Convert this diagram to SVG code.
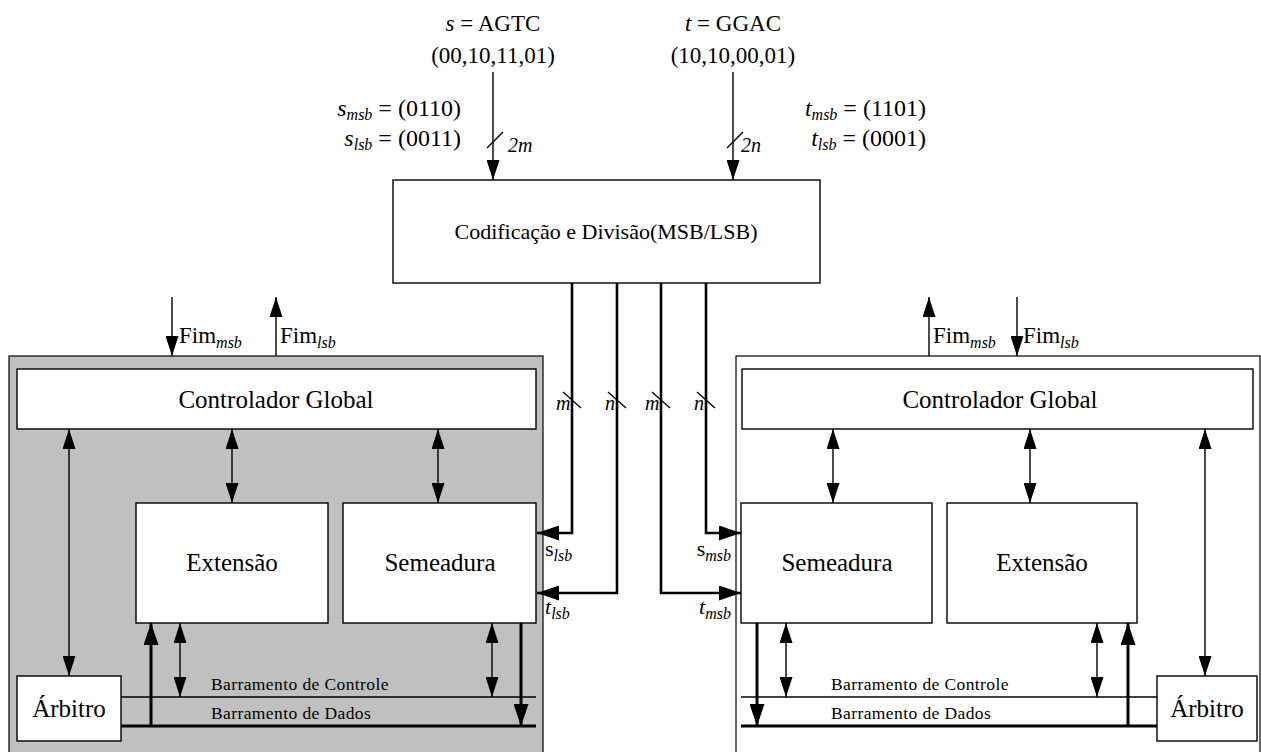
<svg xmlns="http://www.w3.org/2000/svg" width="1261" height="752" viewBox="0 0 1261 752" font-family="'Liberation Serif', 'Times New Roman', serif">
<defs>
<style>
text{font-family:'Liberation Serif','Times New Roman',serif;font-size:23px;fill:#000}
.c{text-anchor:middle}
.e{text-anchor:end}
.i{font-style:italic}
.sub{font-size:16px;font-style:italic}
.lbl{font-size:25px}
.eq{font-size:24px}
.eq .sub{font-size:16px}
.bus{font-size:17.5px;letter-spacing:0.4px}
.sm{font-size:20px;font-style:italic}
.box{fill:#fff;stroke:#000;stroke-width:1.4}
.thin{stroke:#000;stroke-width:1.4;fill:none}
.thick{stroke:#000;stroke-width:3;fill:none}
.mid{stroke:#000;stroke-width:2.6;fill:none}
</style>
<marker id="ah" viewBox="0 0 22 15" refX="22" refY="7.5" markerWidth="22" markerHeight="15" markerUnits="userSpaceOnUse" orient="auto-start-reverse"><path d="M0,0 L22,7.5 L0,15 z" fill="#000"/></marker>
<marker id="ahs" viewBox="0 0 20 13" refX="20" refY="6.5" markerWidth="20" markerHeight="13" markerUnits="userSpaceOnUse" orient="auto-start-reverse"><path d="M0,0 L20,6.5 L0,13 z" fill="#000"/></marker>
</defs>

<!-- panels -->
<g id="panel-left"><rect x="9" y="356" width="534" height="410" fill="#c0c0c0" stroke="#000" stroke-width="1.2"/></g>
<g id="panel-right"><rect x="736" y="356" width="524" height="410" fill="#fff" stroke="#000" stroke-width="1.2"/></g>

<!-- top labels -->
<g id="input-s">
<text class="c" x="493" y="31"><tspan class="i">s</tspan> = AGTC</text>
<text class="c" x="493" y="63">(00,10,11,01)</text>
<text class="e eq" x="461" y="116"><tspan class="i">s</tspan><tspan class="sub" dy="4">msb</tspan><tspan dy="-4"> = (0110)</tspan></text>
<text class="e eq" x="461" y="146"><tspan class="i">s</tspan><tspan class="sub" dy="4">lsb</tspan><tspan dy="-4"> = (0011)</tspan></text>
</g>
<g id="input-t">
<text class="c" x="733" y="31"><tspan class="i">t</tspan> = GGAC</text>
<text class="c" x="733" y="63">(10,10,00,01)</text>
<text class="e eq" x="926" y="116"><tspan class="i">t</tspan><tspan class="sub" dy="4">msb</tspan><tspan dy="-4"> = (1101)</tspan></text>
<text class="e eq" x="926" y="146"><tspan class="i">t</tspan><tspan class="sub" dy="4">lsb</tspan><tspan dy="-4"> = (0001)</tspan></text>
</g>

<g id="codificacao">
<rect class="box" x="393" y="180" width="427" height="103"/>
<text class="c" x="606" y="239" style="font-size:22px">Codificação e Divisão(MSB/LSB)</text>
</g>

<!-- left side nodes -->
<g id="ctrl-left"><rect class="box" x="17" y="369" width="519" height="60"/><text class="c lbl" x="276" y="408">Controlador Global</text></g>
<g id="ext-left"><rect class="box" x="136" y="503" width="192" height="120"/><text class="c lbl" x="232" y="571">Extensão</text></g>
<g id="sem-left"><rect class="box" x="343" y="503" width="193" height="120"/><text class="c lbl" x="440" y="571">Semeadura</text></g>
<g id="arb-left"><rect class="box" x="17" y="676" width="104" height="65"/><text class="c lbl" x="69" y="717">Árbitro</text></g>

<!-- right side nodes -->
<g id="ctrl-right"><rect class="box" x="742" y="369" width="511" height="60"/><text class="c lbl" x="1000" y="408">Controlador Global</text></g>
<g id="sem-right"><rect class="box" x="741" y="503" width="191" height="120"/><text class="c lbl" x="837" y="571">Semeadura</text></g>
<g id="ext-right"><rect class="box" x="947" y="503" width="190" height="120"/><text class="c lbl" x="1042" y="571">Extensão</text></g>
<g id="arb-right"><rect class="box" x="1157" y="676" width="100" height="65"/><text class="c lbl" x="1207" y="717">Árbitro</text></g>

<g id="connectors">
<!-- inputs -->
<line class="thin" x1="493" y1="72" x2="493" y2="180" marker-end="url(#ahs)"/>
<line class="thin" x1="733" y1="72" x2="733" y2="180" marker-end="url(#ahs)"/>
<line class="thin" x1="487" y1="148" x2="503" y2="132"/>
<line class="thin" x1="727" y1="148" x2="743" y2="132"/>
<text class="sm" x="508" y="152">2m</text>
<text class="sm" x="741" y="152">2n</text>

<!-- split lines -->
<polyline class="mid" points="572,283 572,533 537,533" marker-end="url(#ah)"/>
<polyline class="mid" points="617,283 617,593 537,593" marker-end="url(#ah)"/>
<polyline class="mid" points="661,283 661,593 741,593" marker-end="url(#ah)"/>
<polyline class="mid" points="706,283 706,533 741,533" marker-end="url(#ah)"/>
<line class="thin" x1="563" y1="392" x2="581" y2="408"/>
<line class="thin" x1="608" y1="392" x2="626" y2="408"/>
<line class="thin" x1="652" y1="392" x2="670" y2="408"/>
<line class="thin" x1="697" y1="392" x2="715" y2="408"/>
<text class="sm" x="556" y="410">m</text>
<text class="sm" x="605" y="410">n</text>
<text class="sm" x="645" y="410">m</text>
<text class="sm" x="694" y="410">n</text>
<text x="545" y="556" style="font-size:22px">s<tspan class="sub" dy="5">lsb</tspan></text>
<text x="545" y="614" style="font-size:22px"><tspan class="i">t</tspan><tspan class="sub" dy="5">lsb</tspan></text>
<text class="e" x="731" y="556" style="font-size:22px">s<tspan class="sub" dy="5">msb</tspan></text>
<text class="e" x="731" y="614" style="font-size:22px"><tspan class="i">t</tspan><tspan class="sub" dy="5">msb</tspan></text>

<!-- Fim arrows -->
<line class="thin" x1="172" y1="297" x2="172" y2="356" marker-end="url(#ahs)"/>
<line class="thin" x1="276" y1="356" x2="276" y2="297" marker-end="url(#ahs)"/>
<text x="179" y="343">Fim<tspan class="sub" dy="5">msb</tspan></text>
<text x="280" y="343">Fim<tspan class="sub" dy="5">lsb</tspan></text>
<line class="thin" x1="929" y1="356" x2="929" y2="297" marker-end="url(#ahs)"/>
<line class="thin" x1="1017" y1="297" x2="1017" y2="356" marker-end="url(#ahs)"/>
<text x="933" y="343">Fim<tspan class="sub" dy="5">msb</tspan></text>
<text x="1023" y="343">Fim<tspan class="sub" dy="5">lsb</tspan></text>

<!-- controller links left -->
<line class="thin" x1="69" y1="429" x2="69" y2="676" marker-start="url(#ahs)" marker-end="url(#ahs)"/>
<line class="thin" x1="232" y1="429" x2="232" y2="503" marker-start="url(#ahs)" marker-end="url(#ahs)"/>
<line class="thin" x1="438" y1="429" x2="438" y2="503" marker-start="url(#ahs)" marker-end="url(#ahs)"/>
<!-- controller links right -->
<line class="thin" x1="833" y1="429" x2="833" y2="503" marker-start="url(#ahs)" marker-end="url(#ahs)"/>
<line class="thin" x1="1030" y1="429" x2="1030" y2="503" marker-start="url(#ahs)" marker-end="url(#ahs)"/>
<line class="thin" x1="1205" y1="429" x2="1205" y2="676" marker-start="url(#ahs)" marker-end="url(#ahs)"/>

<!-- buses left -->
<line class="thin" x1="121" y1="697" x2="536" y2="697"/>
<line class="thick" x1="121" y1="726" x2="536" y2="726"/>
<text class="bus" x="211" y="690">Barramento de Controle</text>
<text class="bus" x="211" y="719">Barramento de Dados</text>
<line class="thick" x1="151" y1="726" x2="151" y2="623" marker-end="url(#ah)"/>
<line class="thin" x1="180" y1="623" x2="180" y2="697" marker-start="url(#ahs)" marker-end="url(#ahs)"/>
<line class="thin" x1="492" y1="623" x2="492" y2="697" marker-start="url(#ahs)" marker-end="url(#ahs)"/>
<line class="thick" x1="521" y1="623" x2="521" y2="726" marker-end="url(#ah)"/>

<!-- buses right -->
<line class="thin" x1="741" y1="697" x2="1157" y2="697"/>
<line class="thick" x1="741" y1="726" x2="1157" y2="726"/>
<text class="bus" x="831" y="690">Barramento de Controle</text>
<text class="bus" x="831" y="719">Barramento de Dados</text>
<line class="thick" x1="757" y1="623" x2="757" y2="726" marker-end="url(#ah)"/>
<line class="thin" x1="786" y1="623" x2="786" y2="697" marker-start="url(#ahs)" marker-end="url(#ahs)"/>
<line class="thin" x1="1097" y1="623" x2="1097" y2="697" marker-start="url(#ahs)" marker-end="url(#ahs)"/>
<line class="thick" x1="1128" y1="726" x2="1128" y2="623" marker-end="url(#ah)"/>
</g>
</svg>
